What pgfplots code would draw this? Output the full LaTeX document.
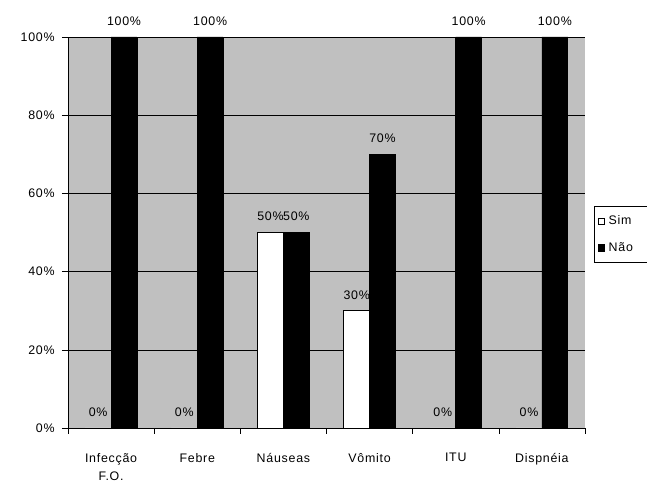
\documentclass[border=0pt]{standalone}
\usepackage{fontspec}
\setmainfont{Liberation Sans}[LetterSpace=6]
\usepackage{pgfplots}
\pgfplotsset{compat=1.18}
\definecolor{plotgray}{RGB}{192,192,192}

\pgfplotstableread{
x sim nao
0 0   100
1 0   100
2 50  50
3 30  70
4 0   100
5 0   100
}\sintomas

\begin{document}
\begin{tikzpicture}
\begin{axis}[
  scale only axis,
  width=387.75pt, height=293.25pt,
  font=\fontsize{9.3}{10.5}\selectfont,
  /pgf/number format/assume math mode=true,
  axis background/.style={fill=plotgray},
  axis x line*=bottom, axis y line*=left,
  axis line style={black, -},
  xmin=-0.5, xmax=5.5, ymin=0, ymax=100,
  ybar, bar width=0.3,
  xtick={0,...,5},
  xticklabels={Infecção\\[3pt]F.O., Febre, Náuseas, Vômito, ITU, Dispnéia},
  xticklabel style={align=center, yshift=-11pt},
  major x tick style={draw=none},
  minor xtick={-0.5,0.5,...,5.5},
  minor tick length=4.5pt,
  tick align=outside,
  ytick={0,20,...,100},
  yticklabel={\pgfmathprintnumber{\tick}\%},
  yticklabel style={xshift=-2pt},
  major tick length=4.5pt,
  tick style={black, thin},
  ymajorgrids, grid style={black, thin},
  nodes near coords={\pgfmathprintnumber{\pgfplotspointmeta}\%},
  nodes near coords style={font=\fontsize{9.3}{10.5}\selectfont, anchor=south, yshift=5pt},
  legend style={at={(rel axis cs:1.017,0.568)}, anchor=north west,
    draw=black, fill=white, font=\fontsize{9.3}{10.5}\selectfont,
    inner xsep=3pt, inner ysep=5pt, row sep=8pt},
  legend cell align=left,
  legend image code/.code={\draw[#1, draw=black] (3pt,-2.4pt) rectangle (7.6pt,2.4pt);},
]
\addplot[fill=white, draw=black, bar shift=-0.15] table[x=x, y=sim] {\sintomas};
\addplot[fill=black, draw=black, bar shift=0.15] table[x=x, y=nao] {\sintomas};
\legend{\makebox[40pt][l]{\hspace{1pt}Sim}, \makebox[40pt][l]{\hspace{1pt}Não}}
\coordinate (bl) at (rel axis cs:0,0);
\end{axis}
\pgfresetboundingbox
\path (bl) ++(-51pt,-39.75pt) rectangle ++(485.25pt,360.75pt);
\end{tikzpicture}
\end{document}
